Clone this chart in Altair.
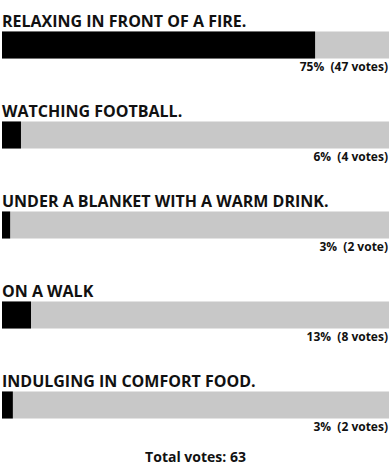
import altair as alt
import pandas as pd

options = [
    "RELAXING IN FRONT OF A FIRE.",
    "WATCHING FOOTBALL.",
    "UNDER A BLANKET WITH A WARM DRINK.",
    "ON A WALK",
    "INDULGING IN COMFORT FOOD.",
]
percents = [75, 6, 3, 13, 3]
votes = [47, 4, 2, 8, 2]
vote_words = ["votes", "votes", "vote", "votes", "votes"]
# filled share of each track as drawn in the reference (percent of track)
bar_fill = [80.9, 4.9, 2.1, 7.5, 2.8]
total_votes = 63

df = pd.DataFrame({
    "option": options,
    "fill": bar_fill,
    "full": [100] * len(options),
    "label": [f"{p}%\u00a0 ({v} {w})" for p, v, w in zip(percents, votes, vote_words)],
})

FONT = "Open Sans"

y = alt.Y("option:N", sort=options, axis=None,
          scale=alt.Scale(paddingInner=0, paddingOuter=0))
xscale = alt.Scale(domain=[0, 100], nice=False, zero=True)

track = alt.Chart(df).mark_bar(size=27, color="#c8c8c8").encode(
    x=alt.X("full:Q", scale=xscale, axis=None), y=y)
fillbar = alt.Chart(df).mark_bar(size=27, color="#000000").encode(
    x=alt.X("fill:Q", scale=xscale, axis=None), y=y)
titles = alt.Chart(df).mark_text(
    align="left", baseline="alphabetic", dy=-18, font=FONT,
    fontWeight="bold", fontSize=16, color="#111111"
).encode(x=alt.value(0), y=y, text="option:N")
labels = alt.Chart(df).mark_text(
    align="right", baseline="alphabetic", dy=26, font=FONT,
    fontWeight="bold", fontSize=12, color="#111111"
).encode(x=alt.value(386), y=y, text="label:N")

chart = alt.layer(track, fillbar, titles, labels).properties(
    width=387, height=450,
    padding={"left": 2, "top": 0, "right": 0, "bottom": 15},
    autosize=alt.AutoSizeParams(type="none"),
    title=alt.TitleParams(f"Total votes: {total_votes}", orient="bottom",
                          anchor="middle", baseline="alphabetic",
                          font=FONT, fontSize=14,
                          fontWeight="bold", color="#111111", offset=12),
).configure_view(stroke=None)

chart.save("out.html", embed_options={"renderer": "svg", "actions": False})
